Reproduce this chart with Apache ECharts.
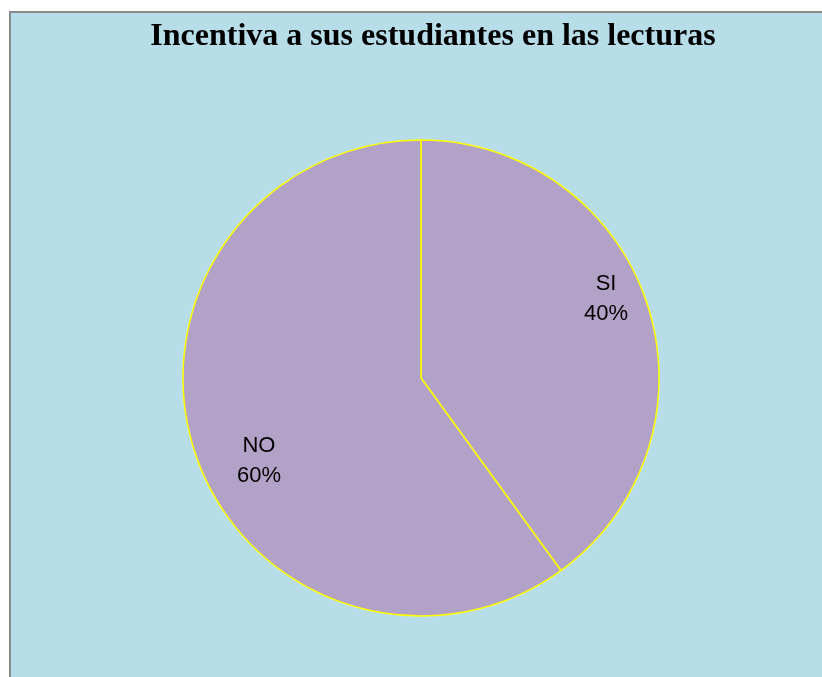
<!DOCTYPE html>
<html>
<head>
<meta charset="utf-8">
<script src="https://cdn.jsdelivr.net/npm/echarts@6/dist/echarts.min.js"></script>
<style>
  html, body { margin: 0; padding: 0; background: #fff; overflow: hidden; }
  .marco {
    position: absolute; left: 9px; top: 11px; right: 0; bottom: 0;
    border-left: 2px solid #8a8a8a; border-top: 2px solid #8a8a8a;
    background: #b7dde8;
  }
  #chart-lecturas { width: 811px; height: 664px; }
</style>
</head>
<body>
<div class="marco"><div id="chart-lecturas"></div></div>
<script>
  // datos del gráfico
  var categorias = ['SI', 'NO'];
  var porcentajes = [40, 60];
  // desplazamiento de cada etiqueta
  var desplazamientos = [[69, -41], [-46, 45]];

  var datos = categorias.map(function (c, i) {
    return { name: c, value: porcentajes[i], label: { offset: desplazamientos[i] } };
  });

  var myChart = echarts.init(document.getElementById('chart-lecturas'));
  myChart.setOption({
    backgroundColor: '#b7dde8',
    animation: false,
    title: {
      text: 'Incentiva a sus estudiantes en las lecturas',
      left: 417,
      top: 3,
      textAlign: 'center',
      textStyle: {
        fontFamily: 'Liberation Serif',
        fontWeight: 'bold',
        fontSize: 32,
        color: '#000'
      }
    },
    series: [
      {
        type: 'pie',
        center: [410, 365],
        radius: 238,
        startAngle: 90,
        clockwise: true,
        silent: true,
        itemStyle: {
          color: '#b3a2c7',
          borderColor: '#ffff00',
          borderWidth: 1.5
        },
        label: {
          show: true,
          position: 'inside',
          fontFamily: 'Liberation Sans',
          fontSize: 22,
          lineHeight: 30,
          color: '#000',
          formatter: function (p) { return p.name + '\n' + p.value + '%'; }
        },
        labelLine: { show: false },
        data: datos
      }
    ]
  });
</script>
</body>
</html>
